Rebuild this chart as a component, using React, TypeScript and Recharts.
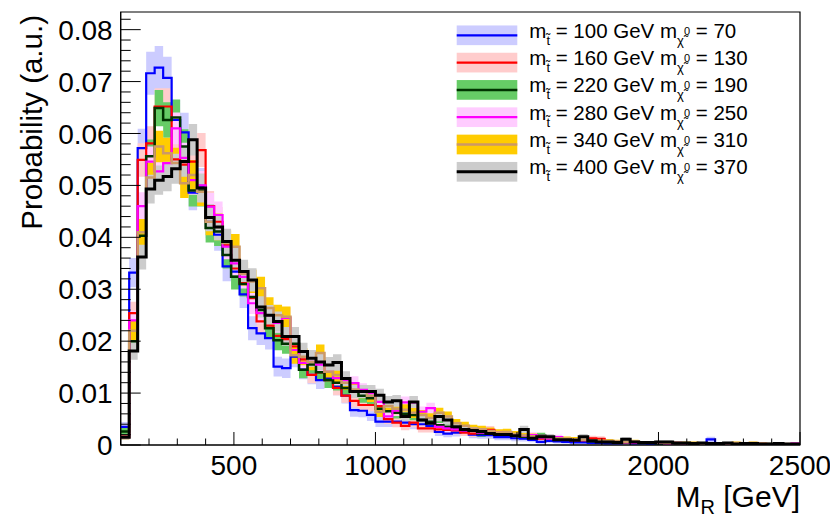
import React from "react";
import { ComposedChart, Line, Area, XAxis, YAxis, ReferenceArea } from "recharts";

const FONT = "'Liberation Sans', Arial, Helvetica, sans-serif";

// Histogram binning: 80 bins of 30 GeV from 100 to 2500 GeV
const BIN_LOW = 100;
const BIN_WIDTH = 30;
const N_BINS = 80;

const stop100 = [
  0.0035, 0.0332, 0.0572, 0.0716, 0.0727, 0.0707, 0.0626, 0.0602, 0.0486, 0.0499,
  0.043, 0.0405, 0.0344, 0.0334, 0.029, 0.0225, 0.0215, 0.0206, 0.0151, 0.0148,
  0.017, 0.0145, 0.0135, 0.0125, 0.0128, 0.0112, 0.0095, 0.0067, 0.0066, 0.0058,
  0.0045, 0.0045, 0.0045, 0.0043, 0.004, 0.004, 0.0037, 0.0025, 0.0022, 0.0024,
  0.0026, 0.002, 0.0019, 0.0019, 0.0015, 0.0015, 0.0013, 0.0012, 0.001, 0.0006,
  0.0008, 0.0007, 0.0006, 0.0005, 0.0005, 0.0004, 0.0004, 0.0003, 0.0003, 0.0004,
  0.0003, 0.0003, 0.0002, 0.0003, 0.0002, 0.0002, 0.0003, 0.0002, 0.0002, 0.0011,
  0.0002, 0.0002, 0.0001, 0.0002, 0.0001, 0.0001, 0.0001, 0.0001, 0.0001, 0.0001,
];
const stop160 = [
  0.0016, 0.0254, 0.0549, 0.0581, 0.0652, 0.0652, 0.055, 0.054, 0.0546, 0.0568,
  0.046, 0.043, 0.0385, 0.034, 0.0312, 0.0283, 0.0238, 0.023, 0.021, 0.0204,
  0.019, 0.0165, 0.0135, 0.014, 0.0125, 0.011, 0.0095, 0.0085, 0.0077, 0.0077,
  0.0075, 0.005, 0.0043, 0.0037, 0.0043, 0.0032, 0.0032, 0.003, 0.0029, 0.0028,
  0.0024, 0.0022, 0.0029, 0.0029, 0.0022, 0.002, 0.0018, 0.0016, 0.0015, 0.0012,
  0.0012, 0.0011, 0.001, 0.0009, 0.0008, 0.0013, 0.0012, 0.0007, 0.0006, 0.0005,
  0.0005, 0.0004, 0.0004, 0.0004, 0.0003, 0.0003, 0.0003, 0.0002, 0.0003, 0.0002,
  0.0002, 0.0002, 0.0002, 0.0002, 0.0001, 0.0002, 0.0001, 0.0001, 0.0001, 0.0001,
];
const stop220 = [
  0.0026, 0.02, 0.0403, 0.0556, 0.0649, 0.0626, 0.0631, 0.0575, 0.049, 0.049,
  0.0418, 0.0411, 0.0366, 0.0324, 0.031, 0.0285, 0.026, 0.0225, 0.0202, 0.0195,
  0.0195, 0.0145, 0.0155, 0.014, 0.0125, 0.012, 0.011, 0.0105, 0.0095, 0.009,
  0.007, 0.0065, 0.0062, 0.006, 0.0058, 0.0048, 0.0045, 0.0038, 0.0035, 0.0033,
  0.003, 0.0028, 0.0022, 0.0025, 0.002, 0.0022, 0.0018, 0.0016, 0.0015, 0.0018,
  0.0013, 0.0011, 0.001, 0.0009, 0.0008, 0.0007, 0.0007, 0.0006, 0.0005, 0.0005,
  0.0005, 0.0004, 0.0004, 0.0003, 0.0004, 0.0003, 0.0003, 0.0003, 0.0002, 0.0003,
  0.0002, 0.0002, 0.0002, 0.0002, 0.0002, 0.0001, 0.0002, 0.0001, 0.0001, 0.0001,
];
const stop280 = [
  0.0015, 0.024, 0.046, 0.0546, 0.0527, 0.0543, 0.061, 0.0553, 0.051, 0.05,
  0.0459, 0.0443, 0.0382, 0.035, 0.0324, 0.0273, 0.0254, 0.025, 0.0235, 0.0245,
  0.0183, 0.0158, 0.016, 0.0155, 0.0141, 0.0129, 0.0125, 0.0119, 0.0106, 0.01,
  0.0083, 0.0055, 0.0066, 0.0082, 0.0082, 0.0064, 0.0071, 0.0035, 0.0032, 0.003,
  0.0028, 0.0027, 0.0024, 0.0022, 0.0024, 0.0021, 0.0019, 0.0018, 0.0019, 0.0014,
  0.0012, 0.0015, 0.001, 0.0009, 0.0009, 0.0008, 0.0007, 0.0006, 0.0005, 0.0005,
  0.0004, 0.0005, 0.0004, 0.0004, 0.0003, 0.0004, 0.0003, 0.0003, 0.0003, 0.0002,
  0.0002, 0.0002, 0.0003, 0.0002, 0.0002, 0.0002, 0.0001, 0.0002, 0.0001, 0.0003,
];
const stop340 = [
  0.0015, 0.022, 0.041, 0.0515, 0.0575, 0.0562, 0.0543, 0.0504, 0.052, 0.0488,
  0.043, 0.042, 0.0389, 0.0382, 0.033, 0.0315, 0.0302, 0.0264, 0.025, 0.0247,
  0.0173, 0.017, 0.016, 0.0177, 0.0141, 0.0135, 0.012, 0.0107, 0.0103, 0.0095,
  0.0064, 0.0075, 0.007, 0.0068, 0.0062, 0.0058, 0.0052, 0.0062, 0.0055, 0.0042,
  0.0037, 0.0032, 0.003, 0.0027, 0.0024, 0.0025, 0.0021, 0.0019, 0.0017, 0.0016,
  0.0015, 0.0013, 0.0012, 0.0011, 0.001, 0.0009, 0.0008, 0.0008, 0.0007, 0.0006,
  0.0007, 0.0005, 0.0005, 0.0005, 0.0004, 0.0004, 0.0004, 0.0004, 0.0003, 0.0003,
  0.0003, 0.0003, 0.0004, 0.0003, 0.0004, 0.0003, 0.0002, 0.0002, 0.0002, 0.0002,
];
const stop400 = [
  0.0015, 0.0181, 0.0362, 0.0493, 0.051, 0.0517, 0.0532, 0.0546, 0.0588, 0.0495,
  0.0438, 0.042, 0.0392, 0.0356, 0.0334, 0.0318, 0.0266, 0.025, 0.0238, 0.0209,
  0.0209, 0.018, 0.0167, 0.016, 0.0154, 0.0159, 0.0128, 0.0103, 0.0103, 0.0103,
  0.0096, 0.0083, 0.0085, 0.0055, 0.0083, 0.0048, 0.0042, 0.0055, 0.0048, 0.0035,
  0.003, 0.0028, 0.0026, 0.0022, 0.002, 0.002, 0.0018, 0.003, 0.0013, 0.0016,
  0.0016, 0.001, 0.001, 0.0009, 0.0016, 0.0008, 0.0006, 0.0006, 0.0005, 0.0011,
  0.0006, 0.0005, 0.0005, 0.0006, 0.0006, 0.0004, 0.0004, 0.0003, 0.0004, 0.0003,
  0.0003, 0.0004, 0.0002, 0.0003, 0.0003, 0.0002, 0.0002, 0.0003, 0.0002, 0.0002,
];

const stopMasses = [100, 160, 220, 280, 340, 400];
const lspMasses = [70, 130, 190, 250, 310, 370];
// effective event counts used for the statistical error band (sqrt(p/N))
const effEvents = [4200, 5300, 5300, 6500, 6300, 6400];

const SERIES = [
  { key: "s100", values: stop100, line: "#0000ff", band: "#ccccff", width: 2.2 },
  { key: "s160", values: stop160, line: "#ff0000", band: "#ffcccc", width: 2.2 },
  { key: "s220", values: stop220, line: "#003300", band: "#66cc66", width: 2.5 },
  { key: "s280", values: stop280, line: "#ff00ff", band: "#ffccff", width: 2.2 },
  { key: "s340", values: stop340, line: "#cc9966", band: "#ffcc00", width: 2.5 },
  { key: "s400", values: stop400, line: "#000000", band: "#cccccc", width: 3 },
];

const X_MAJOR = [500, 1000, 1500, 2000, 2500];
const Y_MAJOR = [0, 0.01, 0.02, 0.03, 0.04, 0.05, 0.06, 0.07, 0.08];
const X_TICKS: number[] = [];
for (let v = 100; v <= 2500; v += 100) X_TICKS.push(v);
const Y_TICKS: number[] = [];
for (let k = 0; k <= 41; k++) Y_TICKS.push(Math.round(k * 2) / 1000);

const Y_MAX = 0.0834;

const rows = Array.from({ length: N_BINS + 1 }, (_, i) => {
  const row: any = { x: BIN_LOW + BIN_WIDTH * i };
  SERIES.forEach((s, si) => {
    const v = s.values[Math.min(i, N_BINS - 1)];
    const e = Math.sqrt(v / effEvents[si]);
    row[s.key] = v;
    row[s.key + "Band"] = [Math.max(0, v - e), v + e];
  });
  return row;
});

const isMajorY = (v: number) => Y_MAJOR.some((m) => Math.abs(m - v) < 1e-9);
const isMajorX = (v: number) => X_MAJOR.includes(v);

const YTick = (props: any) => {
  const { x, y, payload } = props;
  const v = payload.value;
  const major = isMajorY(v);
  return (
    <g>
      <line x1={x} x2={x + (major ? 20 : 10)} y1={y} y2={y} stroke="#000" strokeWidth={1} />
      {major && (
        <text x={x - 8} y={y} dy="0.36em" textAnchor="end" fontSize={28} fontFamily={FONT} fill="#000">
          {v === 0 ? "0" : v.toFixed(2)}
        </text>
      )}
    </g>
  );
};

const XTick = (props: any) => {
  const { x, y, payload } = props;
  const v = payload.value;
  const major = isMajorX(v);
  return (
    <g>
      <line x1={x} x2={x} y1={y} y2={y - (major ? 13 : 6.5)} stroke="#000" strokeWidth={1} />
      {major && (
        <text x={x} y={y + 30} textAnchor="middle" fontSize={28} fontFamily={FONT} fill="#000">
          {String(v)}
        </text>
      )}
    </g>
  );
};

const YTitle = (props: any) => {
  const vb = props.viewBox || { x: 12.7, y: 4, width: 100, height: 433 };
  const tx = vb.x + vb.width - 79;
  const ty = vb.y + 3;
  return (
    <text
      x={tx}
      y={ty}
      transform={`rotate(-90 ${tx} ${ty})`}
      textAnchor="end"
      fontSize={29.5}
      fontFamily={FONT}
      fill="#000"
    >
      Probability (a.u.)
    </text>
  );
};

const XTitle = (props: any) => {
  const vb = props.viewBox || { x: 112.7, y: 437, width: 679.3, height: 60 };
  const tx = vb.x + vb.width;
  const ty = vb.y + 62;
  return (
    <text x={tx} y={ty} textAnchor="end" fontSize={30} fontFamily={FONT} fill="#000">
      M<tspan fontSize={20} dy={7}>R</tspan>
      <tspan dy={-7}> [GeV]</tspan>
    </text>
  );
};

const LegendBox = () => {
  const rowGap = 27.3;
  return (
    <svg
      width={380}
      height={180}
      style={{ position: "absolute", left: 432, top: 7, overflow: "visible" }}
    >
      {SERIES.map((s, i) => {
        const c = 20.3 + rowGap * i;
        const base = c + 2.5;
        return (
          <g key={s.key}>
            <rect x={16.7} y={c - 9.85} width={60.6} height={19.7} fill={s.band} />
            <line x1={16.7} x2={77.3} y1={c} y2={c} stroke={s.line} strokeWidth={s.width} />
            <text x={89.3} y={base} fontSize={20.5} fontFamily={FONT} fill="#000">
              m
              <tspan dy={7} fontSize={13}>{"t\u0303"}</tspan>
              <tspan fontSize={20.5} dy={-7}>{` = ${stopMasses[i]} GeV m`}</tspan>
              <tspan dy={7} fontSize={13}>{"\u03c7\u0303"}</tspan>
              <tspan fontSize={11} dy={-10}>0</tspan>
              <tspan fontSize={20.5} dy={3}>{` = ${lspMasses[i]}`}</tspan>
            </text>
          </g>
        );
      })}
    </svg>
  );
};

export default function App() {
  return (
    <div style={{ position: "relative", width: 830, height: 510, background: "#fff" }}>
      <ComposedChart
        width={830}
        height={510}
        data={rows}
        margin={{ top: 4, right: 38, left: 12.7, bottom: 13 }}
      >
        <XAxis
          type="number"
          dataKey="x"
          domain={[BIN_LOW, BIN_LOW + BIN_WIDTH * N_BINS]}
          ticks={X_TICKS}
          interval={0}
          tickSize={0}
          tickMargin={0}
          tickLine={false}
          axisLine={{ stroke: "#000", strokeWidth: 1 }}
          height={60}
          allowDataOverflow
          tick={(p: any) => <XTick {...p} />}
          label={(p: any) => <XTitle {...p} />}
        />
        <YAxis
          type="number"
          domain={[0, Y_MAX]}
          ticks={Y_TICKS}
          interval={0}
          width={100}
          tickSize={0}
          tickMargin={0}
          tickLine={false}
          axisLine={{ stroke: "#000", strokeWidth: 1 }}
          allowDataOverflow
          tick={(p: any) => <YTick {...p} />}
          label={(p: any) => <YTitle {...p} />}
        />
        {SERIES.map((s) => (
          <Area
            key={s.key + "Band"}
            dataKey={s.key + "Band"}
            type="stepAfter"
            stroke="none"
            fill={s.band}
            fillOpacity={1}
            dot={false}
            activeDot={false}
            isAnimationActive={false}
          />
        ))}
        {SERIES.map((s) => (
          <Line
            key={s.key}
            dataKey={s.key}
            type="stepAfter"
            stroke={s.line}
            strokeWidth={s.width}
            strokeLinejoin="miter"
            dot={false}
            activeDot={false}
            isAnimationActive={false}
          />
        ))}
        <ReferenceArea
          x1={BIN_LOW}
          x2={BIN_LOW + BIN_WIDTH * N_BINS}
          y1={0}
          y2={Y_MAX}
          fill="none"
          fillOpacity={0}
          stroke="#000"
          strokeWidth={1.2}
          ifOverflow="visible"
        />
      </ComposedChart>
      <LegendBox />
    </div>
  );
}
